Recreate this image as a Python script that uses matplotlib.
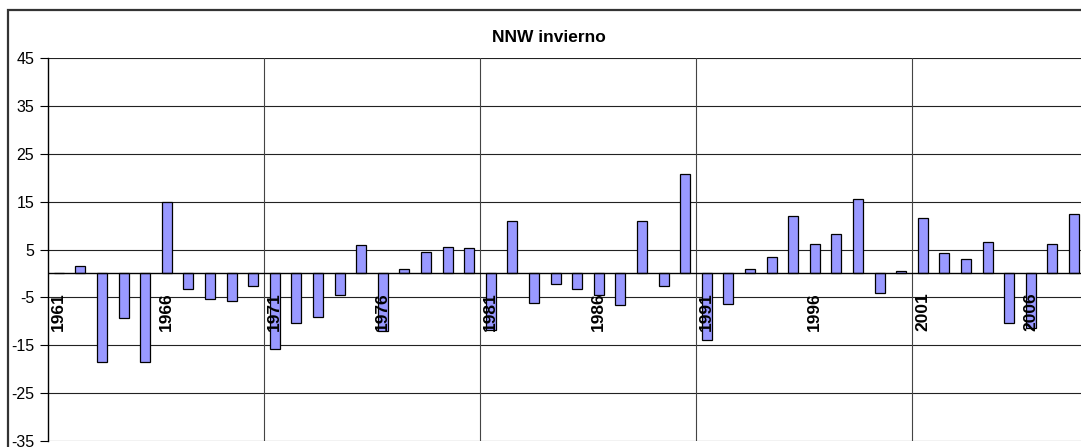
import matplotlib
matplotlib.use("Agg")
import matplotlib.pyplot as plt
from matplotlib.patches import Rectangle

years = list(range(1961, 2009))
values = [0.0, 1.5, -18.5, -9.3, -18.5, 15.0, -3.3, -5.3, -5.8, -2.7,
          -15.8, -10.4, -9.0, -4.5, 6.0, -12.1, 0.9, 4.5, 5.6, 5.3,
          -11.8, 11.0, -6.2, -2.3, -3.2, -4.5, -6.5, 10.9, -2.6, 20.7,
          -14.0, -6.3, 0.9, 3.4, 12.1, 6.1, 8.2, 15.6, -4.0, 0.55,
          11.6, 4.2, 3.1, 6.5, -10.3, -11.5, 6.2, 12.5]
yticks = [45, 35, 25, 15, 5, -5, -15, -25, -35]
title = "NNW invierno"

plt.rcParams['font.family'] = ['Liberation Sans', 'DejaVu Sans']

W, H = 1081, 447
fig = plt.figure(figsize=(W / 100, H / 100), dpi=100)

# chart frame (extends past right and bottom edges)
fig.patches.append(Rectangle((8 / W, -0.1), 1.2, 1 - 10 / H + 0.1,
                             transform=fig.transFigure, fill=False,
                             edgecolor='#333333', linewidth=1.6))

left, right = 48, 48 + 21.6 * 48
top, bottom = 58, 441
ax = fig.add_axes([left / W, 1 - bottom / H, (right - left) / W, (bottom - top) / H])
ax.set_facecolor('none')

x = list(range(len(years)))
ax.bar(x, values, width=0.46, color='#9999FF', edgecolor='black', linewidth=0.9, zorder=3)

ax.set_xlim(-0.5, len(years) - 0.5)
ax.set_ylim(-35, 45)
ax.set_yticks(yticks)
ax.set_yticklabels([str(v) for v in yticks], fontsize=11.5)
ax.tick_params(axis='y', length=6, width=0.8, pad=4, direction='out')

# horizontal gridlines
for v in yticks:
    ax.axhline(v, color='#222222', linewidth=0.8, zorder=1)
# vertical gridlines every 10 categories
xt = [i - 0.5 for i in range(0, len(years), 10)]
ax.set_xticks(xt)
ax.set_xticklabels([])
ax.tick_params(axis='x', length=0)
for xv in xt[1:]:
    ax.axvline(xv, color='#444444', linewidth=0.8, zorder=1)

# category axis at zero
ax.axhline(0, color='black', linewidth=1.0, zorder=4)
for s in ['top', 'right', 'bottom']:
    ax.spines[s].set_visible(False)
ax.spines['left'].set_color('black')
ax.spines['left'].set_linewidth(1.0)

# category labels every 5 years, below the zero line
for i in range(0, len(years), 5):
    ax.annotate(str(years[i]), xy=(i, 0), xytext=(0, -19), textcoords='offset pixels',
                rotation=90, ha='center', va='top', fontsize=12.5, fontweight='bold',
                zorder=5)

fig.text(549 / W, 1 - 37 / H, title, ha='center', va='center', fontsize=12.5,
         fontweight='bold')

fig.savefig('out.png', dpi=100)
